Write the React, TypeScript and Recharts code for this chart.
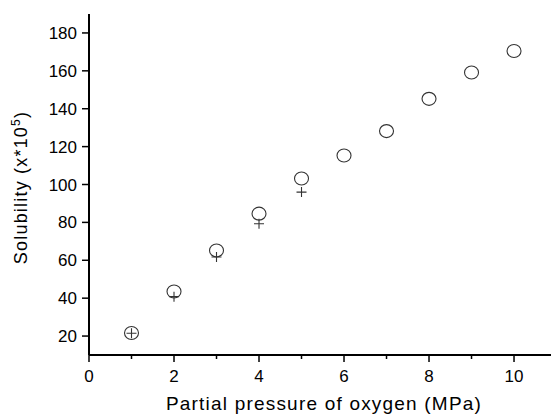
import { ScatterChart, Scatter, XAxis, YAxis, Label } from 'recharts';

// oxygen partial pressure (MPa) and solubility (x*10^5)
const pressure = [1, 2, 3, 4, 5, 6, 7, 8, 9, 10];
const solubilityCircle = [21.6, 43.5, 65.2, 84.6, 103.2, 115.3, 128.2, 145.2, 159.1, 170.5];
const crossPressure = [1, 2, 3, 4, 5];
const solubilityCross = [21.5, 40.8, 61.7, 79.3, 96];

const xTicks = [0, 1, 2, 3, 4, 5, 6, 7, 8, 9, 10];
const yTicks = [20, 30, 40, 50, 60, 70, 80, 90, 100, 110, 120, 130, 140, 150, 160, 170, 180];

const circleData = pressure.map((x, i) => ({ x, y: solubilityCircle[i] }));
const crossData = crossPressure.map((x, i) => ({ x, y: solubilityCross[i] }));

const FONT = '"Liberation Sans", Arial, sans-serif';

const XTick = (props: any) => {
  const { x, y, payload } = props;
  const major = payload.value % 2 === 0;
  return (
    <g>
      <line x1={x} x2={x} y1={y} y2={y + (major ? 7 : 4)} stroke="#000" strokeWidth={1.5} />
      {major && (
        <text x={x} y={y + 27} textAnchor="middle" fontSize={17} fontFamily={FONT} fill="#000">
          {payload.value}
        </text>
      )}
    </g>
  );
};

const YTick = (props: any) => {
  const { x, y, payload } = props;
  const major = payload.value % 20 === 0;
  return (
    <g>
      <line x1={x} x2={x - (major ? 7 : 4)} y1={y} y2={y} stroke="#000" strokeWidth={1.5} />
      {major && (
        <text x={x - 12} y={y + 6} textAnchor="end" fontSize={17} fontFamily={FONT} fill="#000">
          {payload.value}
        </text>
      )}
    </g>
  );
};

const YLabel = (props: any) => {
  const { viewBox } = props;
  const cy = viewBox.y + viewBox.height / 2 + 3;
  return (
    <text
      x={27}
      y={cy}
      transform={`rotate(-90, 27, ${cy})`}
      textAnchor="middle"
      fontSize={18}
      letterSpacing={1.2}
      fontFamily={FONT}
      fill="#000"
    >
      <tspan>Solubility (x*10</tspan>
      <tspan dy={-7} fontSize={12}>5</tspan>
      <tspan dy={7}>)</tspan>
    </text>
  );
};

const XLabel = (props: any) => {
  const { viewBox } = props;
  const cx = viewBox.x + viewBox.width / 2 + 4;
  return (
    <text x={cx} y={410} textAnchor="middle" fontSize={19} letterSpacing={1.2} fontFamily={FONT} fill="#000">
      Partial pressure of oxygen (MPa)
    </text>
  );
};

const Ring = (p: any) => (
  <ellipse cx={p.cx} cy={p.cy} rx={7} ry={6.5} fill="none" stroke="#333" strokeWidth={1.1} />
);

const Plus = (p: any) => (
  <path
    d={`M${p.cx - 5},${p.cy}H${p.cx + 5}M${p.cx},${p.cy - 5}V${p.cy + 5}`}
    stroke="#333"
    strokeWidth={1.1}
    fill="none"
  />
);

export default function App() {
  return (
    <div style={{ position: 'absolute', left: 0, top: 0, background: '#fff' }}>
      <ScatterChart width={551} height={416} margin={{ top: 14, right: 0, bottom: 0, left: 0 }}>
        <XAxis
          type="number"
          dataKey="x"
          domain={[0, 10.87]}
          ticks={xTicks}
          allowDataOverflow
          height={61}
          tickSize={0}
          tickMargin={0}
          tick={<XTick />}
          axisLine={{ stroke: '#000', strokeWidth: 2 }}
        >
          <Label content={<XLabel />} />
        </XAxis>
        <YAxis
          type="number"
          dataKey="y"
          domain={[10, 190]}
          ticks={yTicks}
          allowDataOverflow
          width={89}
          tickSize={0}
          tickMargin={0}
          tick={<YTick />}
          axisLine={{ stroke: '#000', strokeWidth: 2 }}
        >
          <Label content={<YLabel />} />
        </YAxis>
        <Scatter data={circleData} shape={<Ring />} isAnimationActive={false} />
        <Scatter data={crossData} shape={<Plus />} isAnimationActive={false} />
      </ScatterChart>
    </div>
  );
}
